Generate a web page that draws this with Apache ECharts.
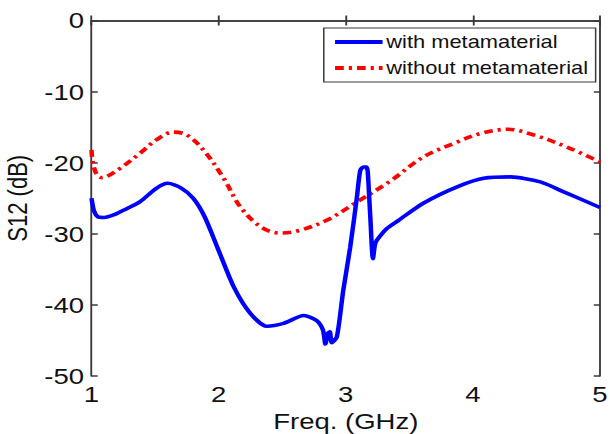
<!DOCTYPE html>
<html>
<head>
<meta charset="utf-8">
<script src="https://cdn.jsdelivr.net/npm/echarts@6/dist/echarts.min.js"></script>
<style>
  html, body { margin: 0; padding: 0; background: #fff; overflow: hidden; }
  /* the figure is laid out on a narrower canvas and widened horizontally */
  #chart { width: 488px; height: 434px; transform: scaleX(1.25); transform-origin: 0 0; }
</style>
</head>
<body>
<div id="chart"></div>
<script>
// S12 transmission vs frequency, with and without the metamaterial layer
const seriesNames = ['with metamaterial', 'without metamaterial'];

const freqWith = [1.00, 1.02, 1.05, 1.10, 1.18, 1.25, 1.38, 1.51, 1.60, 1.70, 1.80, 1.89, 1.99, 2.12, 2.25, 2.38, 2.51, 2.67, 2.77, 2.82, 2.84, 2.86, 2.875, 2.89, 2.93, 2.98, 3.035, 3.088, 3.114, 3.14, 3.16, 3.172, 3.185, 3.193, 3.214, 3.23, 3.245, 3.32, 3.416, 3.61, 3.876, 4.085, 4.295, 4.53, 4.715, 5.00];
const s12With = [-25.0, -26.8, -27.6, -27.7, -27.3, -26.7, -25.5, -23.6, -22.9, -23.5, -25.0, -27.6, -31.9, -37.5, -41.2, -43.0, -42.6, -41.5, -42.2, -43.5, -45.5, -44.0, -43.8, -45.3, -44.5, -38.0, -31.9, -24.8, -21.1, -20.6, -20.6, -21.1, -25.0, -27.6, -33.5, -31.5, -30.9, -29.3, -28.1, -25.7, -23.4, -22.2, -22.0, -22.7, -24.1, -26.3];

const freqWithout = [1.00, 1.01, 1.04, 1.08, 1.20, 1.38, 1.51, 1.64, 1.75, 1.88, 2.04, 2.17, 2.33, 2.48, 2.64, 2.85, 3.09, 3.35, 3.61, 3.876, 4.06, 4.27, 4.48, 4.74, 5.00];
const s12Without = [-18.2, -19.9, -21.6, -22.1, -21.1, -18.7, -16.8, -15.7, -16.1, -18.2, -22.2, -26.2, -29.0, -29.9, -29.5, -28.1, -25.5, -22.6, -19.2, -17.1, -15.9, -15.3, -16.1, -17.8, -19.9];

const xTicks = [1, 2, 3, 4, 5];
const yTicks = [-50, -40, -30, -20, -10, 0];

const pairs = (xs, ys) => xs.map((x, i) => [x, ys[i]]);

const font = 'Liberation Sans, Arial, sans-serif';
const axisLineStyle = { color: '#3a3a3a', width: 1.5 };

const chart = echarts.init(document.getElementById('chart'), null, { renderer: 'svg' });
chart.setOption({
  animation: false,
  backgroundColor: '#fff',
  grid: { left: 73.2, right: 8, top: 20.5, bottom: 58, containLabel: false, outerBoundsMode: 'none' },
  legend: {
    orient: 'vertical',
    right: 11.5,
    top: 28,
    padding: [5, 6, 5, 7],
    itemGap: 8,
    itemWidth: 38,
    itemHeight: 14,
    backgroundColor: '#fff',
    borderColor: '#3a3a3a',
    borderWidth: 1.2,
    borderRadius: 0,
    itemStyle: { opacity: 0 },
    lineStyle: { width: 4 },
    textStyle: { fontFamily: font, fontSize: 17.5, color: '#111', padding: [0, 0, 0, -2] },
    data: seriesNames
  },
  xAxis: [{
    type: 'value', min: 1, max: 5, interval: 1,
    name: 'Freq. (GHz)', nameLocation: 'middle', nameGap: 31,
    nameTextStyle: { fontFamily: font, fontSize: 22, color: '#111' },
    axisLine: { lineStyle: axisLineStyle },
    axisTick: { inside: true, length: 5, lineStyle: axisLineStyle },
    axisLabel: { fontFamily: font, fontSize: 22, color: '#111', margin: 7,
      formatter: v => xTicks.includes(v) ? String(v) : '' },
    splitLine: { show: false }
  }, {
    type: 'value', min: 1, max: 5, interval: 1, position: 'top',
    axisLine: { show: true, lineStyle: axisLineStyle },
    axisTick: { inside: true, length: 5, lineStyle: axisLineStyle },
    axisLabel: { show: false }, splitLine: { show: false }
  }],
  yAxis: [{
    type: 'value', min: -50, max: 0, interval: 10,
    name: 'S12 (dB)', nameLocation: 'middle', nameGap: 41.5,
    nameTextStyle: { fontFamily: font, fontSize: 22, color: '#111' },
    axisLine: { show: true, lineStyle: axisLineStyle },
    axisTick: { show: true, inside: true, length: 5, lineStyle: axisLineStyle },
    axisLabel: { fontFamily: font, fontSize: 22, color: '#111', margin: 6,
      formatter: v => yTicks.includes(v) ? String(v) : '' },
    splitLine: { show: false }
  }, {
    type: 'value', min: -50, max: 0, interval: 10, position: 'right',
    axisLine: { show: true, lineStyle: axisLineStyle },
    axisTick: { show: true, inside: true, length: 5, lineStyle: axisLineStyle },
    axisLabel: { show: false }, splitLine: { show: false }
  }],
  series: [{
    name: seriesNames[0],
    type: 'line',
    data: pairs(freqWith, s12With),
    smooth: 0.25,
    symbol: 'none',
    lineStyle: { color: '#0000ff', width: 3.6 },
    itemStyle: { color: '#0000ff' },
    z: 3
  }, {
    name: seriesNames[1],
    type: 'line',
    data: pairs(freqWithout, s12Without),
    smooth: 0.35,
    symbol: 'none',
    lineStyle: { color: '#ff0000', width: 3.6, type: [7, 4, 2.5, 4] },
    itemStyle: { color: '#ff0000' },
    z: 2
  }]
});
</script>
</body>
</html>
